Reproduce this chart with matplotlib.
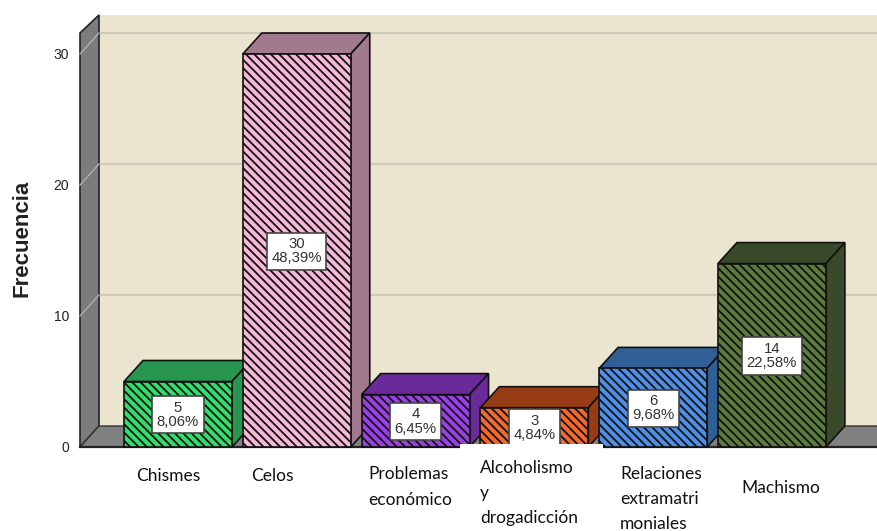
import matplotlib
matplotlib.use("Agg")
import matplotlib.pyplot as plt
from matplotlib.patches import Polygon, Rectangle

# data
categories = ["Chismes", "Celos", "Problemas\neconómico", "Alcoholismo\ny\ndrogadicción",
              "Relaciones\nextramatri\nmoniales", "Machismo"]
freq = [5, 30, 4, 3, 6, 14]
pct = ["8,06%", "48,39%", "6,45%", "4,84%", "9,68%", "22,58%"]
yticks = [0, 10, 20, 30]

front_cols = ["#33dd6c", "#f7b8d8", "#9b3fe6", "#f2692a", "#4e90e6", "#5c7c3e"]
side_cols = ["#28964e", "#a17a8e", "#6b2a9a", "#983c16", "#305f96", "#394a2b"]

W, H = 877, 531
plt.rcParams["hatch.linewidth"] = 1.3

fig = plt.figure(figsize=(W/100, H/100), dpi=100)
ax = fig.add_axes([80/W, (H-447)/H, (W-80)/W, 393/H])
ax.set_xlim(-0.825, 5.885)
ax.set_ylim(0, 30)
ax.axis("off")

# depth of the 3d effect, in data units
dx = 19/118.8
dy = 21/13.1
top = (447-15)/13.1
top_front = (447-33)/13.1

def poly(pts, fc, ec="none", lw=1, z=1):
    ax.add_patch(Polygon(pts, closed=True, fc=fc, ec=ec, lw=lw, zorder=z, clip_on=False))

x0, x1 = -0.825, 5.885

# walls and floor
poly([(x0+dx, dy), (x1+dx, dy), (x1+dx, top), (x0+dx, top)], "#ebe5cf")
poly([(x0, 0), (x0+dx, dy), (x0+dx, top), (x0, top_front)], "#7c7c7c", "#222222", 1.2, 2)
poly([(x0, 0), (x0+dx, dy), (x1+dx, dy), (x1, 0)], "#808080", "#333333", 1, 2)
ax.plot([x0, x1], [0, 0], color="#222222", lw=1.6, zorder=3, clip_on=False)

for t in yticks[1:]:
    ax.plot([x0+dx, x1+dx], [t+dy, t+dy], color="#cdcabb", lw=1.6, zorder=1.5, clip_on=False)
    ax.plot([x0, x0+dx], [t, t+dy], color="#b0b0b0", lw=1, zorder=2.5, clip_on=False)
for t in yticks:
    ax.text(x0-0.09, t-0.1, str(t), ha="right", va="center", fontsize=10,
            family="Liberation Sans", color="#222222")

# bars
w = 108/118.8
for i, v in enumerate(freq):
    l, r = i-w/2, i+w/2
    z = 4 + i*0.1
    poly([(l, v), (l+dx, v+dy), (r+dx, v+dy), (r, v)], side_cols[i], "#111111", 1.2, z)
    poly([(r, 0), (r+dx, dy), (r+dx, v+dy), (r, v)], side_cols[i], "#111111", 1.2, z)
    ax.add_patch(Rectangle((l, 0), w, v, fc=front_cols[i], ec="#111111", lw=1.2,
                           hatch="\\\\\\\\", zorder=z, clip_on=False))
    ax.text(i, v/2-0.05, "%d\n%s" % (v, pct[i]), ha="center", va="center", fontsize=10.7,
            family="Liberation Sans", color="#333333", linespacing=1.02, zorder=6,
            bbox=dict(boxstyle="square,pad=0.3", fc="white", ec="#444444", lw=1.2))

# white patch behind the pasted labels
fig.add_artist(Rectangle((460/W, 1-531/H), 143/W, 87/H, fc="white", ec="none",
                         transform=fig.transFigure, zorder=8))

# category labels, placed one by one
label_x = [136, 251, 368, 480, 620, 741]
label_y = [476, 476, 487, 493, 499, 488]
for name, lx, ly in zip(categories, label_x, label_y):
    fig.text(lx/W, 1-ly/H, name, ha="left", va="center", fontsize=12.5, family="Lato",
             color="#111111", linespacing=1.7, zorder=9)

fig.text(22/W, 1-238/H, "Frecuencia", rotation=90, ha="center", va="center",
         fontsize=16, fontweight="bold", family="Liberation Sans", color="#222222")

fig.savefig("out.png", dpi=100)
